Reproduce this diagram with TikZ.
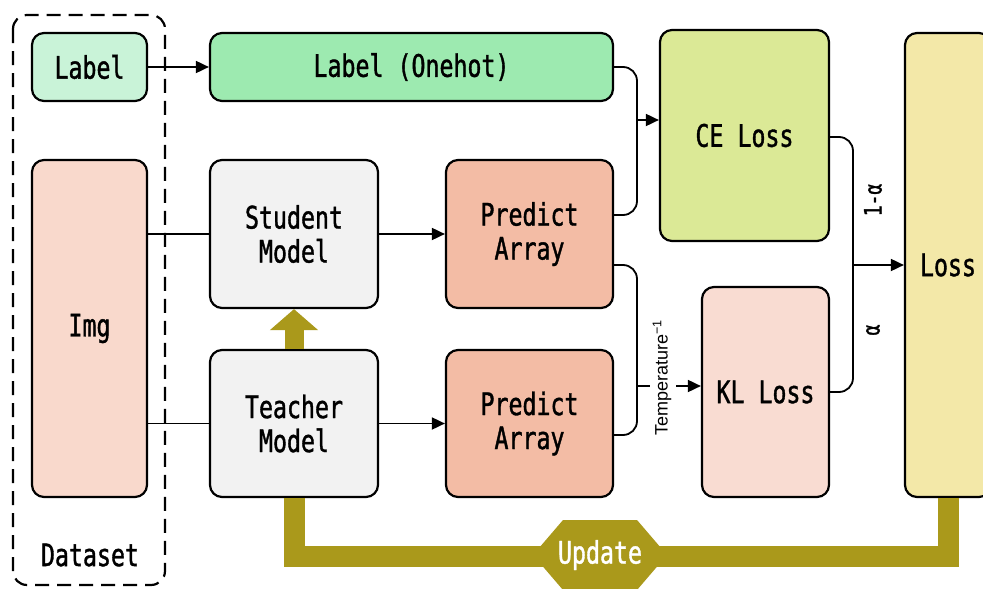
\documentclass[tikz,border=0pt]{standalone}
\usepackage{fontspec}
\usetikzlibrary{arrows.meta}
\newfontfamily\monof[FakeStretch=0.75,FakeBold=1.2]{DejaVu Sans Mono}
\newfontfamily\temf{Liberation Sans}
\definecolor{clabel}{HTML}{C9F3D8}
\definecolor{conehot}{HTML}{9DEAB0}
\definecolor{cimg}{HTML}{F9D9CC}
\definecolor{cmodel}{HTML}{F2F2F2}
\definecolor{cpred}{HTML}{F3BCA5}
\definecolor{cce}{HTML}{DBE996}
\definecolor{ckl}{HTML}{F9DCD2}
\definecolor{closs}{HTML}{F3E8A8}
\definecolor{cgold}{HTML}{AA991B}
\begin{document}
\begin{tikzpicture}[x=1pt,y=-1pt,
  box/.style={draw=black, line width=2.2pt, rounded corners=12pt, inner sep=0pt,
    align=center, font=\monof\fontsize{31}{34}\selectfont},
  conn/.style={line width=1.8pt},
  arr/.style={conn, -{Triangle[length=13pt,width=12pt]}},
  brk/.style={conn, rounded corners=14pt},
  rlab/.style={rotate=90, font=\monof\fontsize{24}{26}\selectfont, inner sep=0pt}]
\clip (0,0) rectangle (983,589);
\fill[white] (0,0) rectangle (983,589);

% dataset
\draw[line width=2.2pt, dash pattern=on 14pt off 8pt, rounded corners=14pt] (13,15) rectangle (165,585);
\node[font=\monof\fontsize{31}{34}\selectfont] (ds) at (90,555) {Dataset};

% boxes
\node[box, fill=clabel, minimum width=115pt, minimum height=68pt] (label) at (89.5,67) {Label};
\node[box, fill=cimg, minimum width=115pt, minimum height=337pt] (img) at (89.5,328.5) {Img};
\node[box, fill=conehot, minimum width=403pt, minimum height=68pt] (onehot) at (411.5,67) {Label (Onehot)};
\node[box, fill=cmodel, minimum width=168pt, minimum height=148pt] (student) at (294,234) {Student\\Model};
\node[box, fill=cmodel, minimum width=168pt, minimum height=147pt] (teacher) at (294,423.5) {Teacher\\Model};
\node[box, fill=cpred, minimum width=167pt, minimum height=148pt] (pa1) at (529.5,234) {Predict\\Array};
\node[box, fill=cpred, minimum width=167pt, minimum height=147pt] (pa2) at (529.5,423.5) {Predict\\Array};
\node[box, fill=cce, minimum width=169pt, minimum height=211pt] (ce) at (744.5,135.5) {CE Loss};
\node[box, fill=ckl, minimum width=127pt, minimum height=210pt] (kl) at (765.5,392) {KL Loss};
\node[box, fill=closs, minimum width=86pt, minimum height=464pt] (loss) at (948,265) {Loss};

% simple connectors
\draw[arr] (label.east) -- (onehot.west);
\draw[conn] (img.east |- student.west) -- (student.west);
\draw[conn] (img.east |- teacher.west) -- (teacher.west);
\draw[arr] (student.east) -- (pa1.west);
\draw[arr] (teacher.east) -- (pa2.west);

% bracket to CE
\coordinate (b1) at (637,120);
\draw[brk] (onehot.east) -| (637,215) -- (pa1.east |- 0,215);
\draw[arr] (b1) -- (ce.west |- b1);

% bracket to KL
\coordinate (b2) at (637,386);
\coordinate (b2e) at (650,386);
\coordinate (b2s) at (676,386);
\draw[brk] (pa1.east |- 0,265) -| (637,435) -- (pa2.east |- 0,435);
\draw[conn] (b2) -- (b2e);
\draw[arr] (b2s) -- (kl.west |- b2s);
\node[rotate=90, font=\temf\fontsize{18}{20}\selectfont, inner sep=0pt] (temp) at (662,378) {Temperature\textsuperscript{−1}};

% bracket to Loss
\coordinate (b3) at (853,265);
\draw[brk] (ce.east |- 0,137) -| (853,392) -- (kl.east);
\draw[arr] (b3) -- (loss.west |- b3);
\node[rlab] (oma) at (873,200) {1-α};
\node[rlab] (al) at (873,330) {α};

% update loop
\draw[cgold, line width=21pt] (loss.south) |- (teacher.south |- 0,556) -- (teacher.south);
\draw[cgold, line width=19pt, -{Triangle[length=21pt,width=47pt]}] (teacher.north) -- (student.south);
\node[font=\monof\fontsize{31}{34}\selectfont, text=white, inner sep=0pt] (upd) at (600,555) {\phantom{Update}};
\fill[cgold] ([shift={(-67,0)}]upd.center) -- ([shift={(-37,-35)}]upd.center) -- ([shift={(37,-35)}]upd.center)
  -- ([shift={(67,0)}]upd.center) -- ([shift={(37,35)}]upd.center) -- ([shift={(-37,35)}]upd.center) -- cycle;
\node[font=\monof\fontsize{31}{34}\selectfont, text=white, inner sep=0pt] at (upd.center) {Update};
\end{tikzpicture}
\end{document}
